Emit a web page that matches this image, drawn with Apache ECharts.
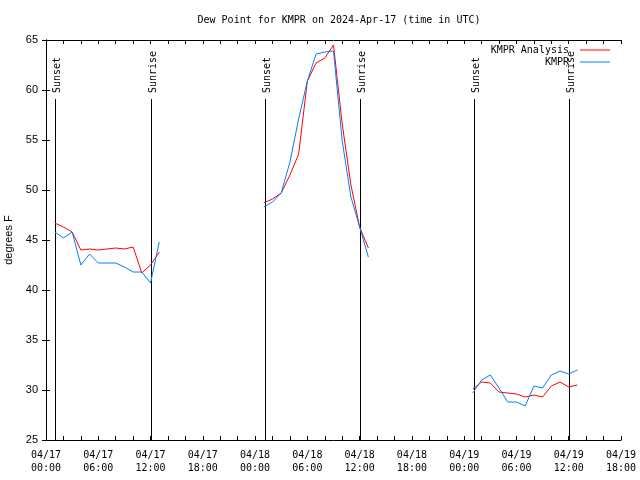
<!DOCTYPE html>
<html>
<head>
<meta charset="utf-8">
<script src="https://cdn.jsdelivr.net/npm/echarts@6/dist/echarts.min.js"></script>
<style>html,body{margin:0;padding:0;background:#fff}#c{width:640px;height:480px}</style>
</head>
<body>
<div id="c"></div>
<script>
// Hours since 2024-04-17 00:00 UTC
var hours1 = [1,2,3,4,5,6,7,8,9,10,11,12,13];
var hours2 = [25,26,27,28,29,30,31,32,33,34,35,36,37];
var hours3 = [49,50,51,52,53,54,55,56,57,58,59,60,61];
var analysis1 = [46.7,46.3,45.8,44.0,44.1,44.0,44.1,44.2,44.1,44.3,41.7,42.5,43.8];
var analysis2 = [48.7,49.1,49.7,51.5,53.6,60.9,62.7,63.2,64.5,56.6,50.5,46.3,44.2];
var analysis3 = [30.1,30.8,30.7,29.8,29.7,29.6,29.3,29.5,29.3,30.4,30.8,30.3,30.5];
var obs1 = [45.8,45.2,45.8,42.5,43.6,42.7,42.7,42.7,42.3,41.8,41.8,40.7,44.8];
var obs2 = [48.3,48.8,49.7,52.8,57.1,60.9,63.6,63.8,63.9,54.9,49.3,46.3,43.3];
var obs3 = [29.7,31.0,31.5,30.2,28.8,28.8,28.4,30.4,30.2,31.5,31.9,31.6,32.0];
var sunHours = [1.07, 12.02, 25.15, 36.0, 49.17, 59.98];
var sunLabels = ['Sunset','Sunrise','Sunset','Sunrise','Sunset','Sunrise'];
var seriesNames = ['KMPR Analysis', 'KMPR'];
var titleText = 'Dew Point for KMPR on 2024-Apr-17 (time in UTC)';
var yName = 'degrees F';

function join(hs, vs) {
  var out = [];
  for (var s = 0; s < hs.length; s++) {
    if (s > 0) out.push([hs[s][0] - 1, null]);
    for (var i = 0; i < hs[s].length; i++) out.push([hs[s][i], vs[s][i]]);
  }
  return out;
}
var analysisData = join([hours1, hours2, hours3], [analysis1, analysis2, analysis3]);
var obsData = join([hours1, hours2, hours3], [obs1, obs2, obs3]);
var sunData = sunHours.map(function (h, i) { return [h, sunLabels[i]]; });

function pad(n) { return (n < 10 ? '0' : '') + n; }
function xLabel(v) {
  if (v % 6 !== 0) return '';
  var day = 17 + Math.floor(v / 24);
  var hr = v % 24;
  return '04/' + pad(day) + '\n' + pad(hr) + ':00';
}

var mono = 'DejaVu Sans Mono';
var chart = echarts.init(document.getElementById('c'), null, {renderer: 'canvas'});
var lineTop = 59.1;
chart.setOption({
  animation: false,
  backgroundColor: '#fff',
  title: {
    text: titleText, left: 334, top: 10, textAlign: 'center',
    textStyle: {fontFamily: mono, fontSize: 10, fontWeight: 'normal', color: '#000'}
  },
  legend: {
    data: seriesNames.map(function (n) { return {name: n}; }),
    orient: 'vertical', right: 25, top: 40, align: 'right',
    icon: 'rect', itemWidth: 30, itemHeight: 1, itemGap: 2,
    formatter: function (n) { return n + ' '; },
    textStyle: {fontFamily: mono, fontSize: 10, color: '#000'}
  },
  grid: {left: 46, right: 19, top: 40, bottom: 40, outerBoundsMode: 'none', containLabel: false},
  xAxis: [{
    type: 'value', min: 0, max: 66, interval: 2,
    axisLine: {lineStyle: {color: '#000', width: 1}},
    axisTick: {inside: true, length: 4, lineStyle: {color: '#000'}},
    axisLabel: {formatter: xLabel, fontFamily: mono, fontSize: 10, color: '#000', margin: 9, lineHeight: 13},
    splitLine: {show: false}
  }, {
    type: 'value', min: 0, max: 66, interval: 2, position: 'top',
    axisLine: {lineStyle: {color: '#000', width: 1}},
    axisTick: {inside: true, length: 4, lineStyle: {color: '#000'}},
    axisLabel: {show: false}, splitLine: {show: false}
  }],
  yAxis: [{
    type: 'value', min: 25, max: 65, interval: 5,
    name: yName, nameLocation: 'middle', nameRotate: 90, nameGap: 31,
    nameTextStyle: {fontFamily: 'Liberation Sans', fontSize: 11, color: '#000'},
    axisLine: {show: true, lineStyle: {color: '#000', width: 1}},
    axisTick: {show: true, inside: true, length: 4, lineStyle: {color: '#000'}},
    axisLabel: {fontFamily: 'Liberation Sans', fontSize: 11, color: '#000', margin: 8},
    splitLine: {show: false}
  }, {
    type: 'value', min: 25, max: 65, interval: 5, position: 'right',
    axisLine: {show: true, lineStyle: {color: '#000', width: 1}},
    axisTick: {show: true, inside: true, length: 4, lineStyle: {color: '#000'}},
    axisLabel: {show: false}, splitLine: {show: false}
  }],
  series: [{
    type: 'custom', name: 'sun', data: sunData, xAxisIndex: 0, yAxisIndex: 0,
    encode: {x: 0}, silent: true, z: 1,
    renderItem: function (params, api) {
      var h = api.value(0);
      var p0 = api.coord([h, 25]);
      var p1 = api.coord([h, lineTop]);
      return {
        type: 'group',
        children: [{
          type: 'line',
          shape: {x1: Math.round(p0[0]) + 0.5, y1: p0[1], x2: Math.round(p0[0]) + 0.5, y2: p1[1]},
          style: {stroke: '#000', lineWidth: 1}
        }, {
          type: 'text',
          x: Math.round(p0[0]) + 2, y: p1[1] - 6,
          rotation: Math.PI / 2,
          style: {text: sunLabels[params.dataIndex], fontFamily: mono, fontSize: 10, fill: '#000',
                  align: 'left', verticalAlign: 'middle'}
        }]
      };
    }
  }, {
    type: 'line', name: seriesNames[0], data: analysisData, symbol: 'none',
    connectNulls: false, lineStyle: {color: '#ff0000', width: 1}, itemStyle: {color: '#ff0000'}, z: 3
  }, {
    type: 'line', name: seriesNames[1], data: obsData, symbol: 'none',
    connectNulls: false, lineStyle: {color: '#0080ff', width: 1}, itemStyle: {color: '#0080ff'}, z: 4
  }]
});
</script>
</body>
</html>
